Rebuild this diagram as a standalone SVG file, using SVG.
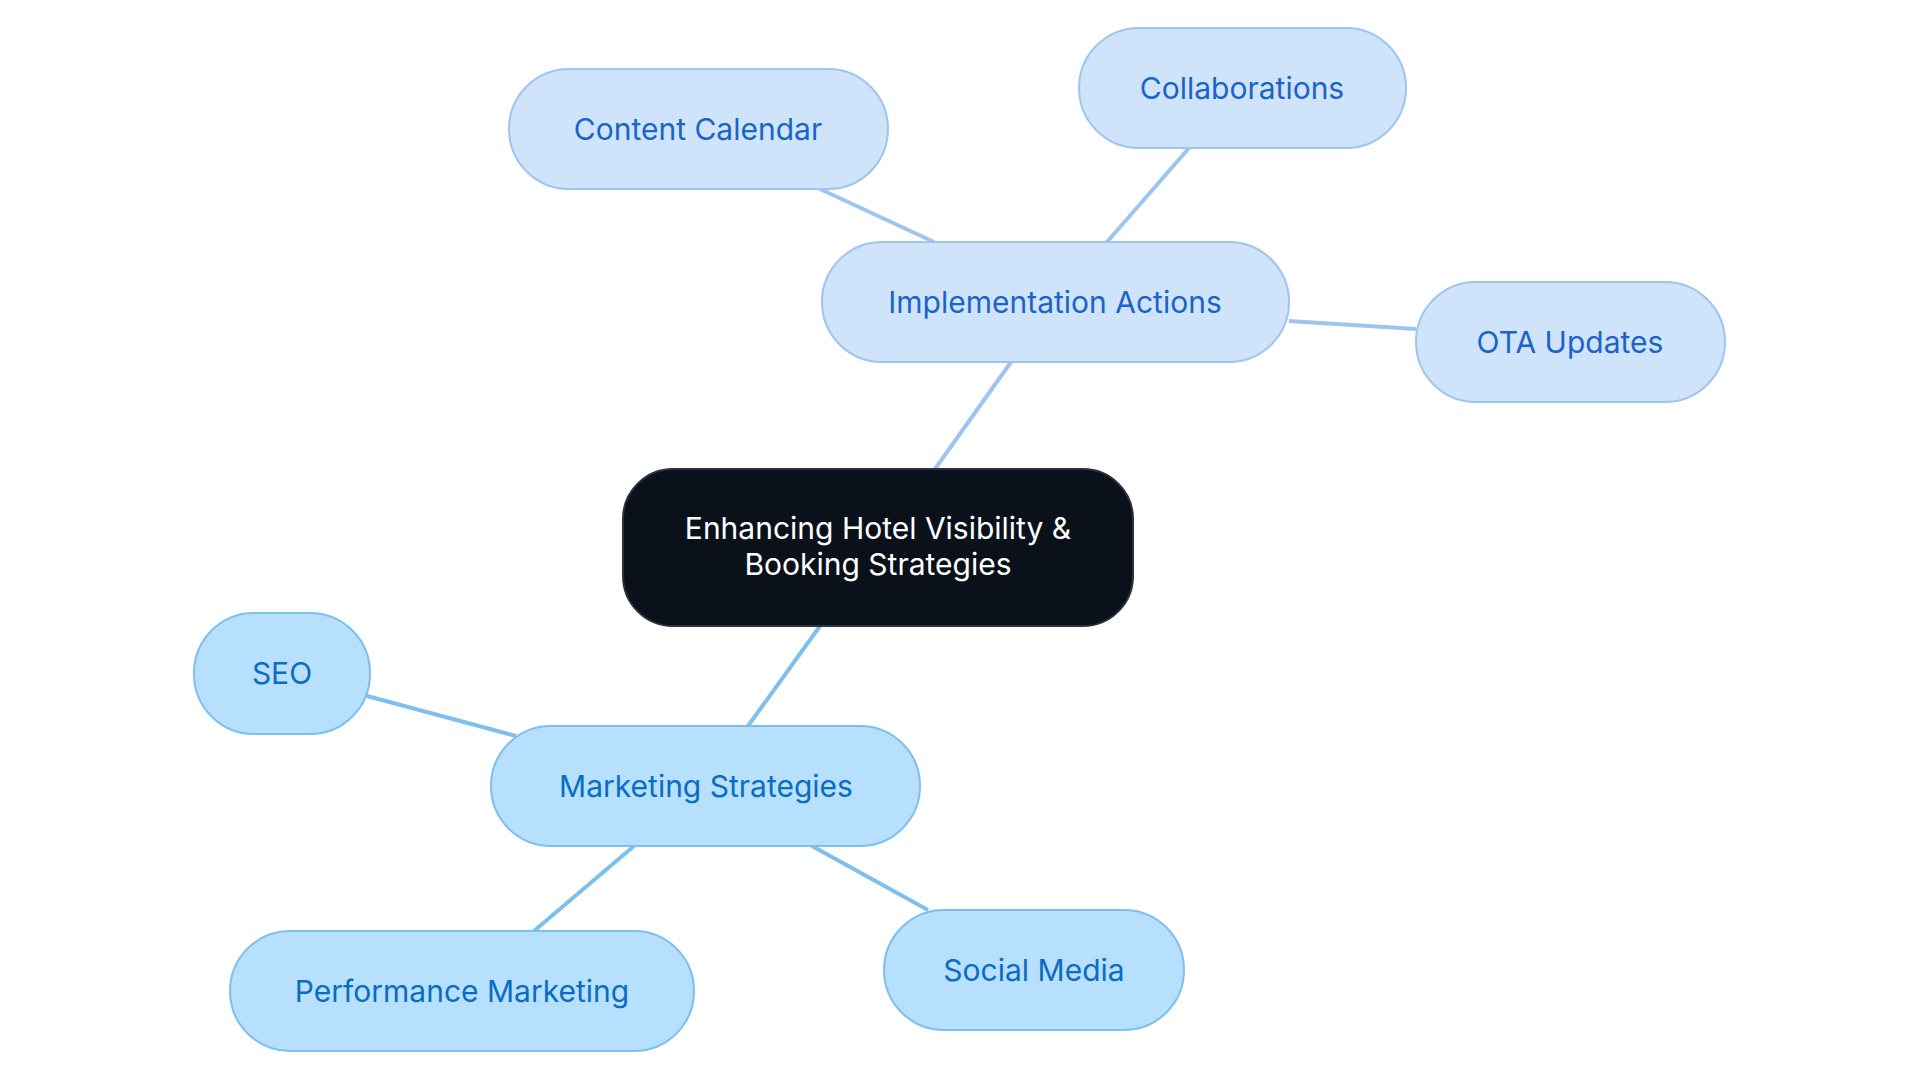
<svg xmlns="http://www.w3.org/2000/svg" width="1920" height="1083" viewBox="0 0 1920 1083">
<style>
text{font-family:Inter,"Noto Sans",sans-serif;text-anchor:middle;dominant-baseline:central}
.a rect{fill:#cfe3fb;stroke:#9ec5f0;stroke-width:2}
.a text{fill:#1a63c7;font-size:30px}
.m rect{fill:#b6e0fe;stroke:#7ebfee;stroke-width:2}
.m text{fill:#0a6cc2;font-size:30px}
.ea{stroke:#9ec5f0;stroke-width:4}
.em{stroke:#7ebfee;stroke-width:4}
</style>
<rect width="1920" height="1083" fill="#fff"/>
<g id="connectors">
<line class="ea" x1="935" y1="469" x2="1011" y2="362"/>
<line class="ea" x1="934" y1="242" x2="820" y2="189"/>
<line class="ea" x1="1107" y1="242" x2="1189" y2="148"/>
<line class="ea" x1="1289" y1="321" x2="1416" y2="329"/>
<line class="em" x1="820" y1="626" x2="748" y2="726"/>
<line class="em" x1="516" y1="736" x2="367" y2="696"/>
<line class="em" x1="634" y1="846" x2="534" y2="931"/>
<line class="em" x1="812" y1="846" x2="928" y2="910"/>
</g>
<g id="center"><rect x="623" y="469" width="510" height="157" rx="50" fill="#0b111b" stroke="#2a3240" stroke-width="2"/>
<text x="878" y="528" fill="#fff" font-size="30">Enhancing Hotel Visibility &amp;</text>
<text x="878" y="564" fill="#fff" font-size="30">Booking Strategies</text></g>
<g id="impl" class="a"><rect x="822" y="242" width="467" height="120" rx="60"/><text x="1055" y="302">Implementation Actions</text></g>
<g id="content" class="a"><rect x="509" y="69" width="379" height="120" rx="60"/><text x="698" y="129">Content Calendar</text></g>
<g id="collab" class="a"><rect x="1079" y="28" width="327" height="120" rx="60"/><text x="1242" y="88">Collaborations</text></g>
<g id="ota" class="a"><rect x="1416" y="282" width="309" height="120" rx="60"/><text x="1570" y="342">OTA Updates</text></g>
<g id="marketing" class="m"><rect x="491" y="726" width="429" height="120" rx="60"/><text x="706" y="786">Marketing Strategies</text></g>
<g id="seo" class="m"><rect x="194" y="613" width="176" height="121" rx="60"/><text x="282" y="673">SEO</text></g>
<g id="perf" class="m"><rect x="230" y="931" width="464" height="120" rx="60"/><text x="462" y="991">Performance Marketing</text></g>
<g id="social" class="m"><rect x="884" y="910" width="300" height="120" rx="60"/><text x="1034" y="970">Social Media</text></g>
</svg>
